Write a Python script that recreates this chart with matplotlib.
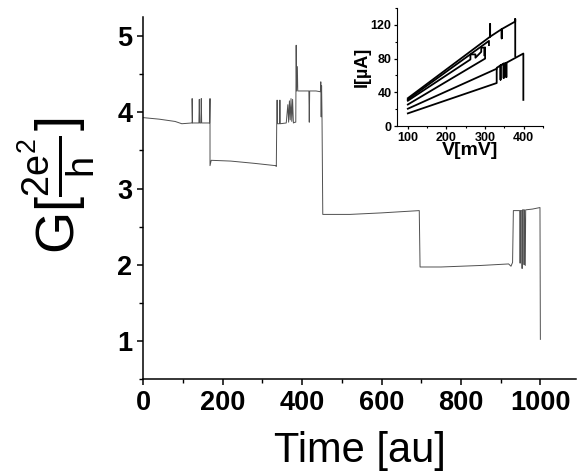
import matplotlib
matplotlib.use('Agg')
import matplotlib.pyplot as plt
from matplotlib.ticker import MultipleLocator

plt.rcParams['font.family'] = ['Liberation Sans', 'DejaVu Sans']
plt.rcParams['mathtext.fontset'] = 'custom'
plt.rcParams['mathtext.rm'] = 'Liberation Sans'
plt.rcParams['mathtext.it'] = 'Liberation Sans'

# main trace: conductance (units of 2e^2/h) vs time, breakpoints
time = [0, 40, 80, 97, 122, 123, 123, 124, 140, 141, 142, 145, 146, 147, 167, 168, 168,
        171, 220, 280, 333, 335, 336, 337, 338, 343, 344, 345, 360, 364, 366, 368, 370,
        372, 374, 376, 378, 382, 384, 385, 386, 388, 389, 400, 417, 418, 419, 435, 446,
        447, 448, 449, 450, 452, 520, 600, 695, 697, 750, 850, 920, 926, 930, 932, 948,
        949, 950, 953, 954, 955, 958, 959, 960, 962, 963, 980, 999, 1000]
cond = [3.93, 3.91, 3.88, 3.85, 3.86, 3.86, 4.18, 3.86, 3.86, 4.17, 3.86, 3.86, 4.18, 3.86,
        3.86, 4.18, 3.30, 3.37, 3.36, 3.33, 3.30, 3.29, 3.85, 4.16, 3.85, 3.85, 4.16, 3.85,
        3.86, 4.10, 3.87, 4.15, 3.90, 4.18, 3.88, 4.17, 3.86, 3.87, 3.87, 4.88, 4.28, 4.60,
        4.28, 4.28, 4.28, 3.87, 4.28, 4.28, 4.27, 4.40, 3.94, 4.35, 3.98, 2.66, 2.66, 2.68,
        2.71, 1.97, 1.97, 1.99, 2.01, 1.98, 2.03, 2.71, 2.71, 2.02, 2.71, 2.71, 1.95, 2.72,
        2.72, 2.00, 2.72, 1.99, 2.72, 2.73, 2.75, 1.02]

# inset: I-V sweeps (V in mV, I in uA)
iv_v = [
    [100, 313, 313, 313, 343, 343, 343, 378, 378, 378],
    [100, 310, 310],
    [100, 262, 262, 275, 275, 290, 290, 298, 298],
    [100, 300, 300],
    [100, 330, 330, 340, 340, 340, 348, 348, 348, 355, 355, 355, 399, 399],
    [100, 330],
]
iv_i = [
    [33, 106, 121, 106, 115, 104, 115, 124, 127, 83],
    [31.5, 101, 96],
    [30, 79, 85, 85, 81, 88, 93, 93, 84],
    [25.5, 80, 93],
    [15, 51, 69, 72, 55, 72, 74, 57, 74, 75, 58, 75, 86, 31],
    [20.5, 68],
]

fig = plt.figure(figsize=(5.79, 4.75), dpi=100)
ax = fig.add_axes([0.2475, 0.2021, 0.7475, 0.762])
ax.plot(time, cond, color='#505050', lw=0.7)
ax.set_xlim(0, 1090)
ax.set_ylim(0.5, 5.25)
ax.xaxis.set_major_locator(MultipleLocator(200))
ax.xaxis.set_minor_locator(MultipleLocator(100))
ax.yaxis.set_major_locator(MultipleLocator(1))
ax.yaxis.set_minor_locator(MultipleLocator(0.5))
for s in ['top', 'right']:
    ax.spines[s].set_visible(False)
for s in ['left', 'bottom']:
    ax.spines[s].set_linewidth(1.1)
ax.tick_params(which='major', direction='out', length=4, width=1.1, labelsize=19.5, pad=4)
ax.tick_params(which='minor', direction='out', length=3, width=1.0)
for lab in ax.get_xticklabels() + ax.get_yticklabels():
    lab.set_fontweight('bold')
ax.set_xlabel('Time [au]', fontsize=30, labelpad=11)
ax.set_ylabel(r'G[$\frac{2e^2}{h}$]', fontsize=39)
ax.yaxis.set_label_coords(-0.105, 0.534)

# inset
axi = fig.add_axes([0.6857, 0.7347, 0.2522, 0.2484])
for v, i in zip(iv_v, iv_i):
    axi.plot(v, i, color='black', lw=1.3)
axi.set_xlim(72, 450)
axi.set_ylim(0, 140)
axi.xaxis.set_major_locator(MultipleLocator(100))
axi.xaxis.set_minor_locator(MultipleLocator(50))
axi.yaxis.set_major_locator(MultipleLocator(40))
axi.yaxis.set_minor_locator(MultipleLocator(20))
for s in ['top', 'right']:
    axi.spines[s].set_visible(False)
axi.tick_params(which='major', direction='out', length=2.5, width=0.9, labelsize=9, pad=1.5)
axi.tick_params(which='minor', direction='out', length=1.5, width=0.8)
for lab in axi.get_xticklabels() + axi.get_yticklabels():
    lab.set_fontweight('bold')
axi.set_xlabel('V[mV]', fontsize=14, fontweight='bold', labelpad=-1)
axi.set_ylabel('I[\u00b5A]', fontsize=13, fontweight='bold', labelpad=0)

fig.savefig('out.png', dpi=100)
